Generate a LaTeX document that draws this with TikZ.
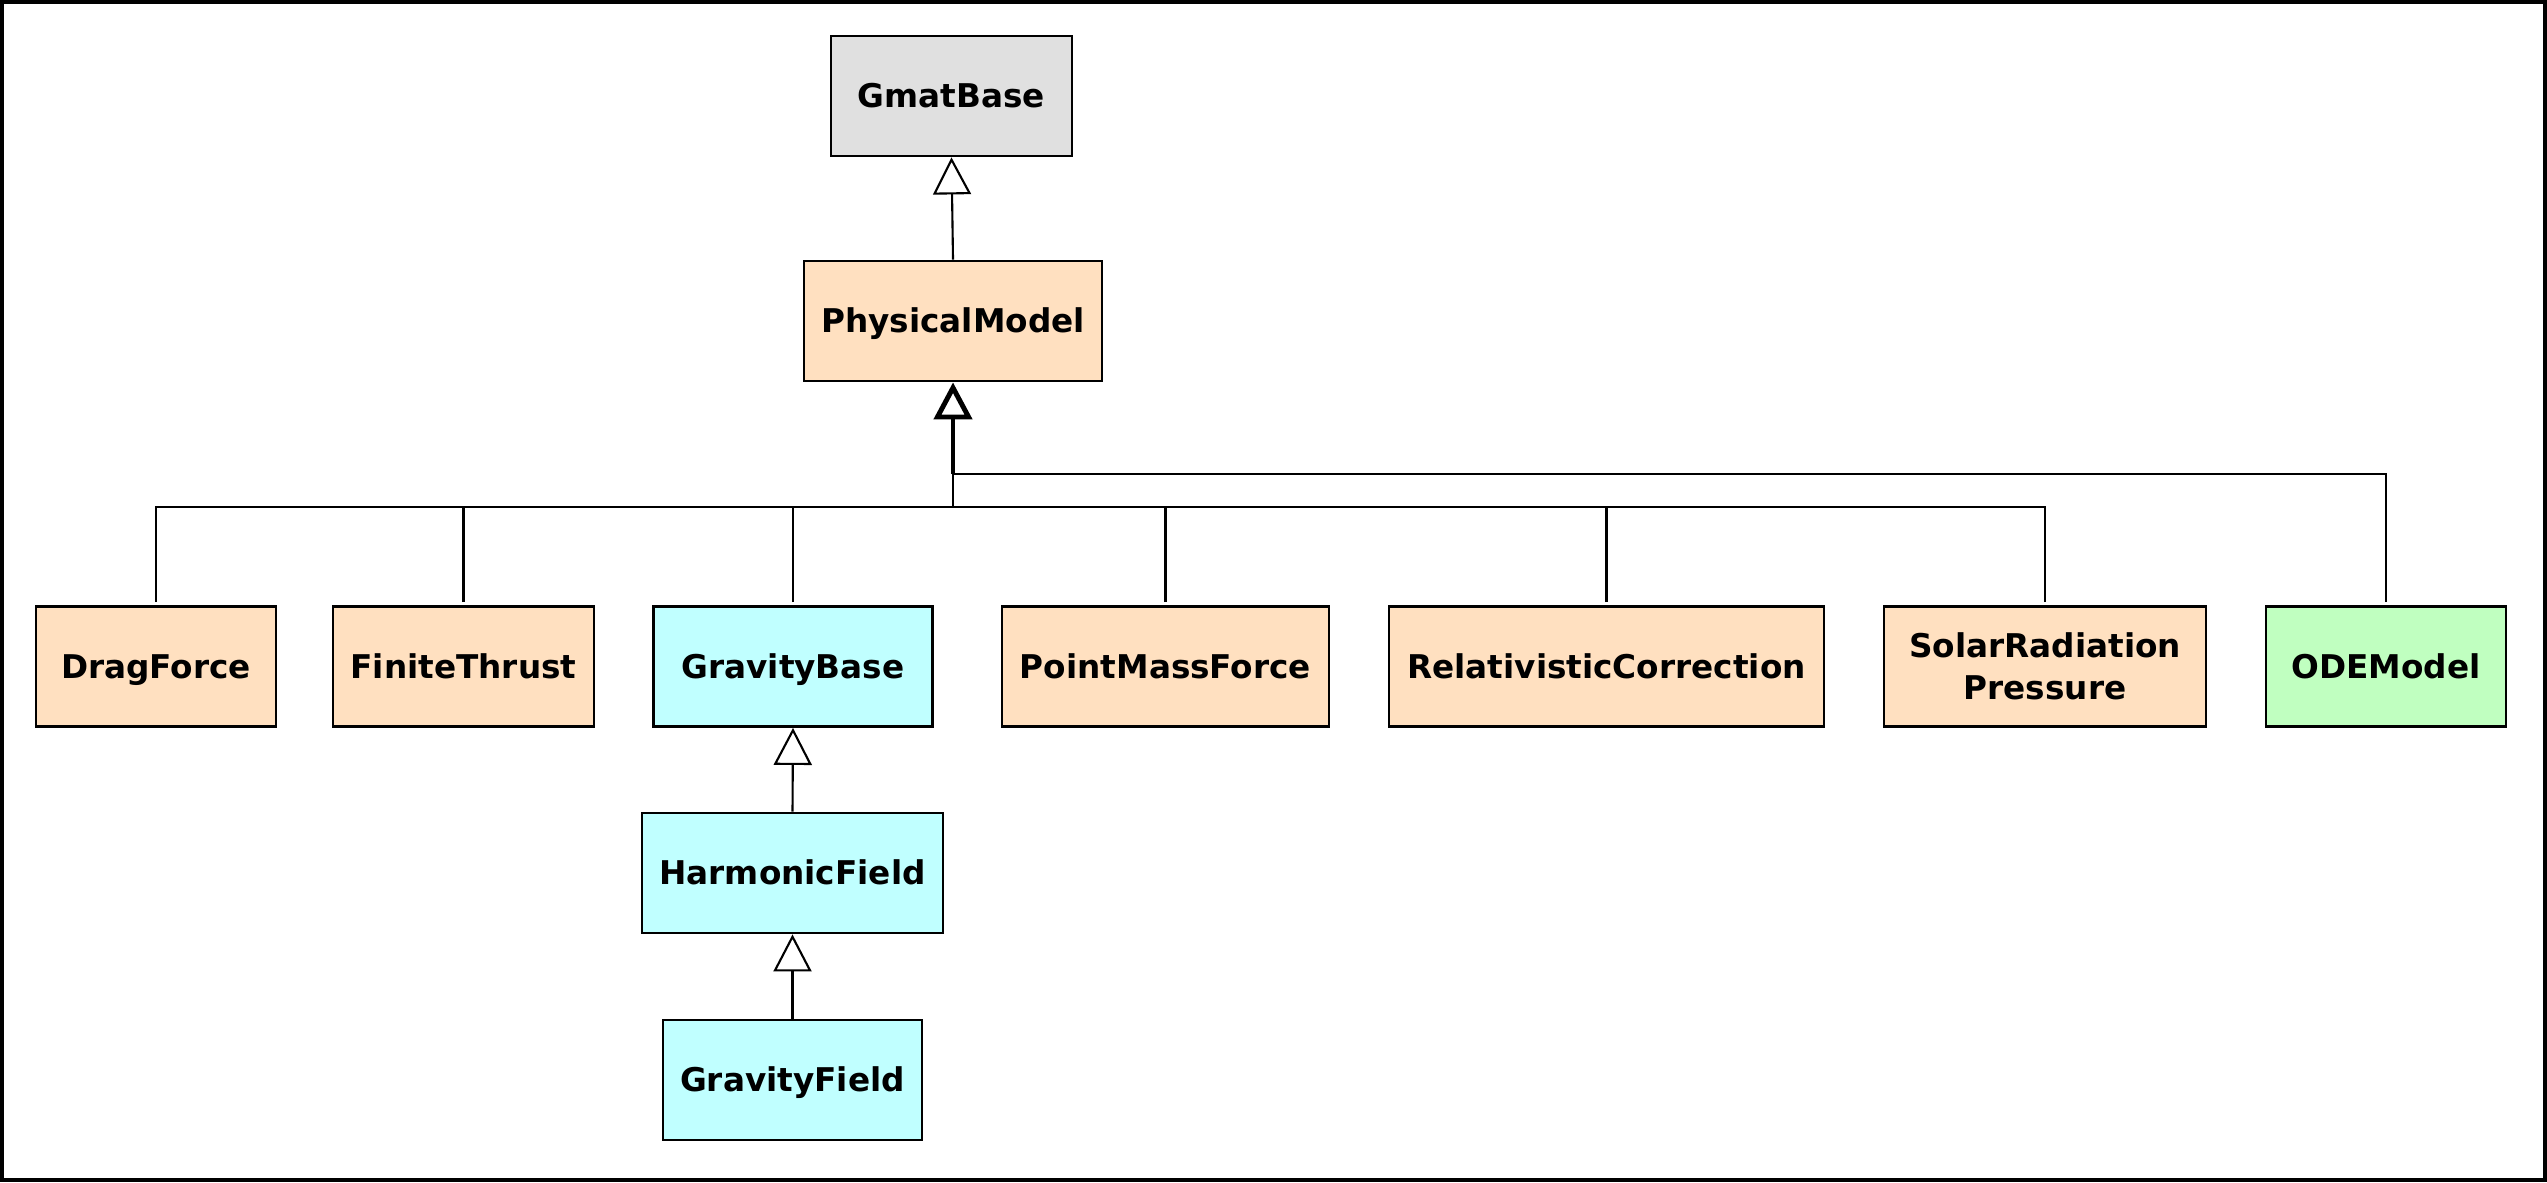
\documentclass[tikz,border=0pt]{standalone}
\usepackage{fontspec}
\setmainfont{DejaVu Sans}
\usetikzlibrary{arrows.meta}

\definecolor{basegray}{HTML}{E0E0E0}
\definecolor{forceorange}{HTML}{FFE0C0}
\definecolor{gravcyan}{HTML}{C0FFFF}
\definecolor{odegreen}{HTML}{C0FFC0}

\begin{document}
\begin{tikzpicture}[
  classbox/.style={draw=black, line width=0.8pt, minimum height=1.20cm,
    inner sep=0pt, text height=6.8pt, text depth=0pt, align=center,
    font=\fontsize{9.3}{12}\selectfont\bfseries},
  inherit/.style={-{Triangle[open, length=3.7mm, width=3.8mm, fill=white]}, line width=0.6pt},
  branch/.style={line width=0.6pt}
]
\useasboundingbox (0,0) rectangle (25.47,-11.82);
\draw[line width=0.9pt] (0.02,-0.02) rectangle (25.45,-11.80);
\node[classbox, fill=basegray, minimum width=2.41cm] (gmat) at (9.515,-0.96) {GmatBase};
\node[classbox, fill=forceorange, minimum width=2.98cm] (physical) at (9.53,-3.21) {PhysicalModel};
\node[classbox, fill=forceorange, minimum width=2.40cm] (drag) at (1.56,-6.665) {DragForce};
\node[classbox, fill=forceorange, minimum width=2.61cm] (finite) at (4.635,-6.665) {FiniteThrust};
\node[classbox, fill=gravcyan, minimum width=2.79cm] (gravbase) at (7.93,-6.665) {GravityBase};
\node[classbox, fill=forceorange, minimum width=3.27cm] (pointmass) at (11.655,-6.665) {PointMassForce};
\node[classbox, fill=forceorange, minimum width=4.35cm] (relativistic) at (16.065,-6.665) {RelativisticCorrection};
\node[classbox, fill=forceorange, minimum width=3.22cm, text height=18.8pt] (solar) at (20.45,-6.665) {SolarRadiation\\Pressure};
\node[classbox, fill=odegreen, minimum width=2.40cm] (ode) at (23.86,-6.665) {ODEModel};
\node[classbox, fill=gravcyan, minimum width=3.01cm] (harmonic) at (7.925,-8.73) {HarmonicField};
\node[classbox, fill=gravcyan, minimum width=2.59cm] (gravfield) at (7.925,-10.80) {GravityField};
\coordinate (upper-junc) at (9.53,-4.74);
\coordinate (lower-junc) at (9.53,-5.07);
% inheritance
\draw[inherit] (physical.north) -- (gmat.south);
\draw[inherit, line width=1.4pt] (upper-junc) -- (physical.south);
\draw[branch] (upper-junc) -- (lower-junc);
\foreach \c in {drag,finite,gravbase,pointmass,relativistic,solar}
  \draw[branch] ([yshift=0.03cm]\c.north) |- (lower-junc);
\draw[branch] ([yshift=0.03cm]ode.north) |- (upper-junc);
\draw[inherit] (harmonic.north) -- (gravbase.south);
\draw[inherit] (gravfield.north) -- (harmonic.south);
\end{tikzpicture}
\end{document}
